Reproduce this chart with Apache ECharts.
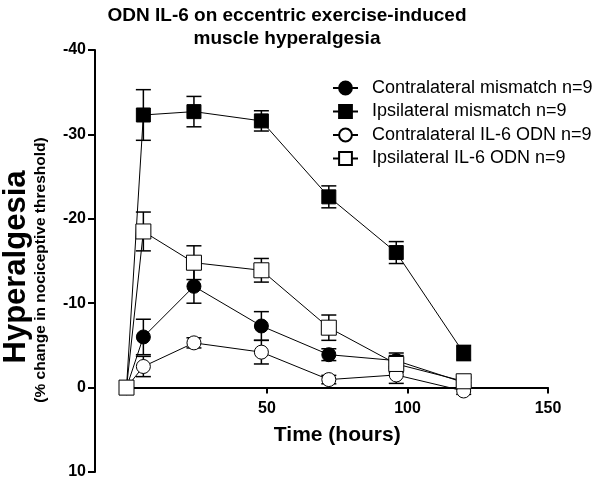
<!DOCTYPE html>
<html>
<head>
<meta charset="utf-8">
<script src="https://cdn.jsdelivr.net/npm/echarts@6/dist/echarts.min.js"></script>
<style>html,body{margin:0;padding:0;background:#fff}#c{width:600px;height:482px}</style>
</head>
<body>
<div id="c"></div>
<script>
var FONT = 'Liberation Sans, Arial, Helvetica, sans-serif';
var times = [0, 6, 24, 48, 72, 96, 120];
var seriesNames = ['Contralateral mismatch n=9', 'Ipsilateral mismatch n=9', 'Contralateral IL-6 ODN n=9', 'Ipsilateral IL-6 ODN n=9'];
var contraMismatch    = [0, -6.0, -12.0, -7.3, -3.9, -3.2, -0.6];
var contraMismatchErr = [0, 2.1, 2.0, 1.7, 0.7, 0.9, 0.5];
var ipsiMismatch      = [0, -32.3, -32.7, -31.6, -22.6, -16.0, -4.1];
var ipsiMismatchErr   = [0, 3.0, 1.8, 1.2, 1.3, 1.3, 0.9];
var contraODN         = [0, -2.5, -5.3, -4.2, -0.95, -1.5, 0.4];
var contraODNErr      = [0, 1.2, 0.6, 1.4, 0.5, 1.0, 0.4];
var ipsiODN           = [0, -18.5, -14.8, -13.9, -7.1, -2.8, -0.75];
var ipsiODNErr        = [0, 2.3, 2.0, 1.4, 1.5, 1.0, 0.5];
var xTicks = [0, 50, 100, 150];
var yTicks = [-40, -30, -20, -10, 0, 10];

var values = [contraMismatch, ipsiMismatch, contraODN, ipsiODN];
var errs = [contraMismatchErr, ipsiMismatchErr, contraODNErr, ipsiODNErr];
var symbols = ['circle', 'rect', 'circle', 'rect'];
var sizes = [14, 14, 14, 15];
var fills = ['#000', '#000', '#fff', '#fff'];

var GRID_TOP = 50, GRID_BOTTOM = 10, CH = 482;
var yMin = yTicks[0], yMax = yTicks[yTicks.length - 1];
var plotH = CH - GRID_TOP - GRID_BOTTOM;
// bottom margin for the data grid so that its bottom edge sits on y = 0
var dataGridBottom = GRID_BOTTOM + plotH * (yMax - 0) / (yMax - yMin);

function errRender(params, api) {
  var x = api.value(0), lo = api.value(1), hi = api.value(2);
  var p1 = api.coord([x, lo]), p2 = api.coord([x, hi]);
  var w = 7.5;
  var st = {stroke: '#000', lineWidth: 1.5};
  return {type: 'group', children: [
    {type: 'line', shape: {x1: p1[0], y1: p1[1], x2: p2[0], y2: p2[1]}, style: st},
    {type: 'line', shape: {x1: p1[0] - w, y1: p1[1], x2: p1[0] + w, y2: p1[1]}, style: st},
    {type: 'line', shape: {x1: p2[0] - w, y1: p2[1], x2: p2[0] + w, y2: p2[1]}, style: st}
  ]};
}

var series = [];
for (var i = 0; i < 4; i++) {
  var ed = [];
  for (var j = 0; j < times.length; j++) {
    if (errs[i][j] > 0) ed.push([times[j], values[i][j] - errs[i][j], values[i][j] + errs[i][j]]);
  }
  series.push({
    type: 'custom', name: seriesNames[i] + ' err', renderItem: errRender, clip: false,
    xAxisIndex: 0, yAxisIndex: 0,
    data: ed, encode: {x: 0, y: [1, 2]}, z: 2, silent: true
  });
}
for (var i = 0; i < 4; i++) {
  var d = [];
  for (var j = 0; j < times.length; j++) d.push([times[j], values[i][j]]);
  series.push({
    type: 'line', name: seriesNames[i], data: d, clip: false,
    xAxisIndex: 0, yAxisIndex: 0,
    symbol: symbols[i], symbolSize: sizes[i], showAllSymbol: true,
    lineStyle: {color: '#000', width: 1},
    itemStyle: {color: fills[i], borderColor: '#000', borderWidth: 1},
    z: 3 + i, animation: false
  });
}

var chart = echarts.init(document.getElementById('c'));
chart.setOption({
  animation: false,
  backgroundColor: '#fff',
  title: {
    text: 'ODN IL-6 on eccentric exercise-induced\nmuscle hyperalgesia',
    left: 282, top: -1, textAlign: 'center',
    textStyle: {fontFamily: FONT, fontWeight: 'bold', fontSize: 19, lineHeight: 23, color: '#000'}
  },
  legend: {
    data: seriesNames, orient: 'vertical', left: 327, top: 74,
    itemWidth: 25, itemHeight: 16, itemGap: 5.5,
    textStyle: {fontFamily: FONT, fontSize: 18, color: '#000', lineHeight: 18, padding: [0, 0, 0, 9]}
  },
  grid: [
    {left: 126.5, right: 52, top: GRID_TOP, bottom: dataGridBottom, containLabel: false, outerBoundsMode: 'none'},
    {left: 95, right: 52, top: GRID_TOP, bottom: GRID_BOTTOM, containLabel: false, outerBoundsMode: 'none'}
  ],
  xAxis: [{
    gridIndex: 0, type: 'value', min: 0, max: 150, interval: 50, position: 'bottom',
    axisLine: {onZero: false, lineStyle: {color: '#000', width: 2}},
    axisTick: {length: 6, lineStyle: {color: '#000', width: 2}},
    axisLabel: {
      margin: 13, color: '#000', fontFamily: FONT, fontWeight: 'bold', fontSize: 16,
      formatter: function (v) { return xTicks.indexOf(v) > 0 ? String(v) : ''; }
    },
    splitLine: {show: false},
    name: 'Time (hours)', nameLocation: 'middle', nameGap: 37,
    nameTextStyle: {fontFamily: FONT, fontWeight: 'bold', fontSize: 21, color: '#000'}
  }, {
    gridIndex: 1, type: 'value', min: 0, max: 150, show: false
  }],
  yAxis: [{
    gridIndex: 0, type: 'value', min: yMin, max: 0, inverse: true, show: false
  }, {
    gridIndex: 1, type: 'value', min: yMin, max: yMax, interval: 10, inverse: true, position: 'left',
    axisLine: {show: true, onZero: false, lineStyle: {color: '#000', width: 2}},
    axisTick: {show: true, length: 7, lineStyle: {color: '#000', width: 2}},
    axisLabel: {
      margin: 9, color: '#000', fontFamily: FONT, fontWeight: 'bold', fontSize: 16,
      formatter: function (v) { return yTicks.indexOf(v) >= 0 ? String(v) : ''; }
    },
    splitLine: {show: false}
  }],
  graphic: [
    {type: 'text', x: 16, y: 267, rotation: Math.PI / 2,
     style: {text: 'Hyperalgesia', fontFamily: FONT, fontWeight: 'bold', fontSize: 31, fill: '#000', align: 'center', verticalAlign: 'middle'}},
    {type: 'text', x: 41, y: 270, rotation: Math.PI / 2,
     style: {text: '(% change in nociceptive threshold)', fontFamily: FONT, fontWeight: 'bold', fontSize: 15.5, fill: '#000', align: 'center', verticalAlign: 'middle'}}
  ],
  series: series
});
</script>
</body>
</html>
